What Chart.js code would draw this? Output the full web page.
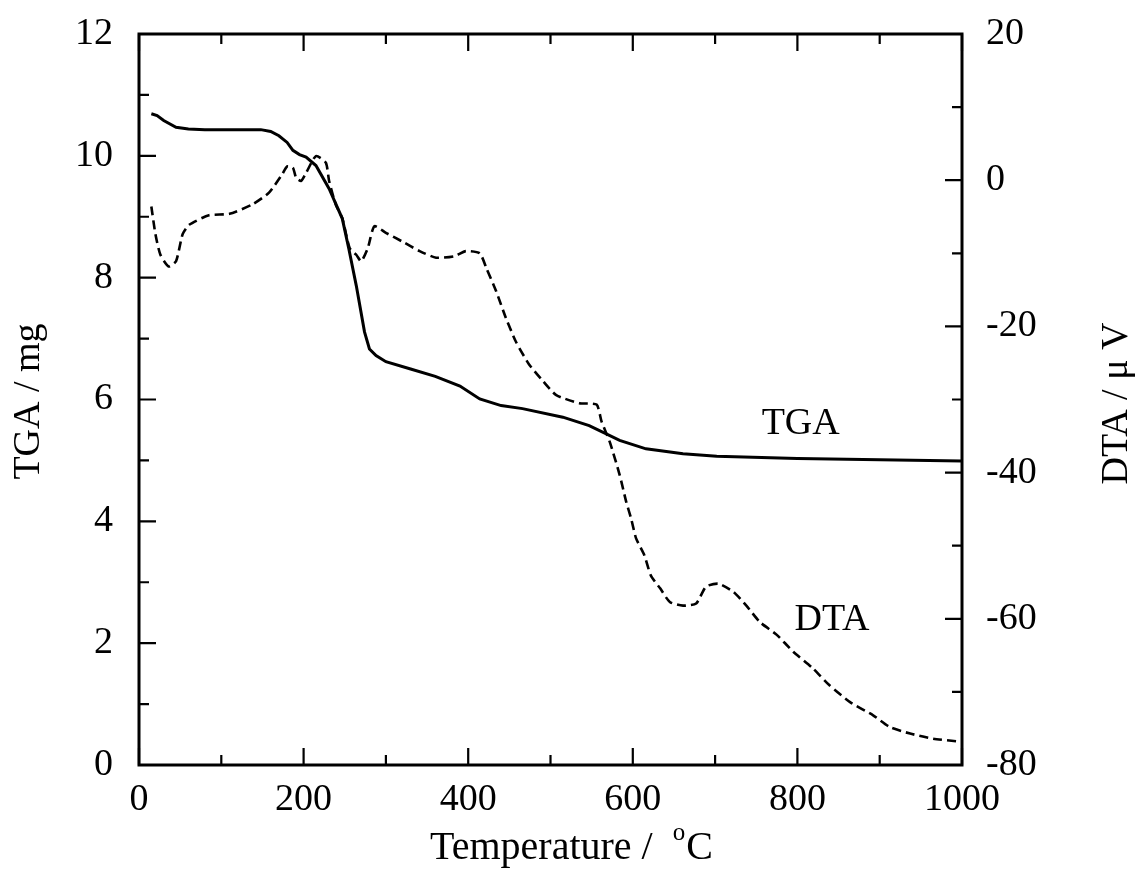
<!DOCTYPE html>
<html>
<head>
<meta charset="utf-8">
<title>TGA / DTA</title>
<script src="https://cdn.jsdelivr.net/npm/chart.js@4/dist/chart.umd.min.js"></script>
<style>
  html, body { margin: 0; padding: 0; background: #fff; }
  #wrap { width: 1135px; height: 893px; }
</style>
</head>
<body>
<div id="wrap"><canvas id="thermo" width="1135" height="893"></canvas></div>
<script>
// TGA curve: temperature (°C) vs mass (mg)
var tgaTemp = [15, 22, 30, 45, 60, 80, 110, 148, 160, 170, 180, 187, 195, 203, 215, 231, 247, 255, 264, 274,
               280, 288, 300, 330, 360, 390, 414, 440, 466, 515, 547, 564, 584, 616, 661, 702, 800, 960, 1000];
var tgaMass = [10.69, 10.66, 10.58, 10.47, 10.44, 10.43, 10.43, 10.43, 10.40, 10.33, 10.22, 10.09, 10.02, 9.98, 9.84, 9.46, 8.97, 8.47, 7.87, 7.11,
               6.83, 6.72, 6.62, 6.50, 6.38, 6.22, 6.01, 5.90, 5.85, 5.71, 5.57, 5.46, 5.33, 5.19, 5.11, 5.07, 5.03, 5.00, 4.99];

// DTA curve: temperature (°C) vs signal (µV)
var dtaTemp = [15, 20, 26, 36, 45, 53, 61, 85, 110, 138, 158, 174, 180, 187, 191, 197, 203, 215, 227, 231,
               239, 247, 256, 264, 270, 278, 286, 300, 320, 341, 361, 383, 397, 414, 422, 434, 446, 458, 474, 491,
               507, 535, 556, 562, 572, 584, 592, 598, 604, 614, 622, 633, 645, 661, 677, 689, 704, 722, 738, 754,
               775, 795, 819, 839, 864, 892, 912, 937, 965, 998];
var dtaSignal = [-3.6, -7.4, -10.2, -11.8, -11.1, -7.4, -6.1, -4.8, -4.6, -3.3, -1.7, 0.8, 1.9, 1.7, 0.3, -0.1, 1.0, 3.3, 2.4, -0.1,
                 -3.3, -5.2, -9.3, -10.2, -11.1, -9.3, -6.3, -7.2, -8.4, -9.7, -10.6, -10.4, -9.7, -10.0, -12.0, -15.2, -18.9, -22.1, -25.2, -27.5,
                 -29.4, -30.5, -30.7, -33.0, -35.8, -40.3, -44.0, -46.3, -49.0, -51.3, -54.1, -55.8, -57.7, -58.2, -57.9, -55.6, -55.2, -56.3, -58.2, -60.4,
                 -62.2, -64.5, -66.8, -69.1, -71.4, -73.2, -74.8, -75.7, -76.4, -76.8];

// curve names placed inside the plot, at data coordinates
var curveLabels = [
  { text: 'TGA', x: 804, y: 5.6, axis: 'y' },
  { text: 'DTA', x: 842, y: -60.1, axis: 'y2' }
];

var SERIF = "'Liberation Serif', 'Times New Roman', serif";
var tickFont = { family: SERIF, size: 38 };

function toPoints(xs, ys) {
  var pts = [];
  for (var i = 0; i < xs.length; i++) pts.push({ x: xs[i], y: ys[i] });
  return pts;
}

function plainNumber(v) { return String(v); }

// frame, inward ticks (major + minor), axis titles and curve names
var framePlugin = {
  id: 'frame',
  afterDraw: function(chart) {
    var ctx = chart.ctx, a = chart.chartArea;
    var sx = chart.scales.x, sy = chart.scales.y, sy2 = chart.scales.y2;
    ctx.save();
    ctx.strokeStyle = '#000';
    ctx.lineWidth = 3;
    ctx.strokeRect(a.left, a.top, a.right - a.left, a.bottom - a.top);

    ctx.lineWidth = 2.2;
    ctx.beginPath();
    var v, p, len;
    for (v = 0; v <= 1000; v += 100) {
      p = sx.getPixelForValue(v);
      len = (v % 200 === 0) ? 17 : 10;
      ctx.moveTo(p, a.bottom); ctx.lineTo(p, a.bottom - len);
      ctx.moveTo(p, a.top); ctx.lineTo(p, a.top + len);
    }
    for (v = 0; v <= 12; v += 1) {
      p = sy.getPixelForValue(v);
      len = (v % 2 === 0) ? 17 : 10;
      ctx.moveTo(a.left, p); ctx.lineTo(a.left + len, p);
    }
    for (v = -80; v <= 20; v += 10) {
      p = sy2.getPixelForValue(v);
      len = (v % 20 === 0) ? 17 : 10;
      ctx.moveTo(a.right, p); ctx.lineTo(a.right - len, p);
    }
    ctx.stroke();

    ctx.fillStyle = '#000';
    ctx.font = '38px ' + SERIF;
    ctx.textAlign = 'center';
    ctx.textBaseline = 'middle';

    // curve names
    curveLabels.forEach(function(l) {
      ctx.fillText(l.text, sx.getPixelForValue(l.x), chart.scales[l.axis].getPixelForValue(l.y));
    });

    var midY = (a.top + a.bottom) / 2;
    // left title
    ctx.save();
    ctx.translate(29, midY + 2);
    ctx.rotate(-Math.PI / 2);
    ctx.fillText('TGA / mg', 0, 0);
    ctx.restore();
    // right title
    ctx.save();
    ctx.translate(1117, midY + 4);
    ctx.rotate(-Math.PI / 2);
    ctx.fillText('DTA / \u03bc V', 0, 0);
    ctx.restore();

    // bottom title with superscript degree mark
    var main = 'Temperature /  ', sup = 'o', unit = 'C';
    ctx.font = '40px ' + SERIF;
    var w1 = ctx.measureText(main).width, w3 = ctx.measureText(unit).width;
    ctx.font = '25px ' + SERIF;
    var w2 = ctx.measureText(sup).width;
    var total = w1 + w2 + w3;
    var x0 = 571 - total / 2, ty = 846;
    ctx.textAlign = 'left';
    ctx.textBaseline = 'alphabetic';
    ctx.font = '40px ' + SERIF;
    ctx.fillText(main, x0, ty + 13);
    ctx.font = '25px ' + SERIF;
    ctx.fillText(sup, x0 + w1, ty - 6);
    ctx.font = '40px ' + SERIF;
    ctx.fillText(unit, x0 + w1 + w2 + 1, ty + 13);
    ctx.restore();
  }
};

var chart = new Chart(document.getElementById('thermo'), {
  type: 'line',
  data: {
    datasets: [
      {
        label: 'TGA',
        data: toPoints(tgaTemp, tgaMass),
        yAxisID: 'y',
        borderColor: '#000',
        borderWidth: 3,
        pointRadius: 0,
        tension: 0
      },
      {
        label: 'DTA',
        data: toPoints(dtaTemp, dtaSignal),
        yAxisID: 'y2',
        borderColor: '#000',
        borderWidth: 2.6,
        borderDash: [9, 5],
        pointRadius: 0,
        tension: 0.2
      }
    ]
  },
  options: {
    responsive: false,
    animation: false,
    layout: { padding: { top: 34, left: 0, right: 0, bottom: 0 } },
    plugins: { legend: { display: false }, tooltip: { enabled: false } },
    scales: {
      x: {
        type: 'linear', min: 0, max: 1000,
        grid: { display: false, drawTicks: false },
        border: { display: false },
        ticks: { stepSize: 200, font: tickFont, color: '#000', padding: 12, maxRotation: 0, autoSkip: false, callback: plainNumber },
        afterFit: function(s) { s.height = 128; s.paddingLeft = 0; s.paddingRight = 0; }
      },
      y: {
        position: 'left', min: 0, max: 12,
        grid: { display: false, drawTicks: false },
        border: { display: false },
        ticks: { stepSize: 2, font: tickFont, color: '#000', padding: 26, autoSkip: false, callback: plainNumber },
        afterFit: function(s) { s.width = 139; s.paddingTop = 0; s.paddingBottom = 0; }
      },
      y2: {
        position: 'right', min: -80, max: 20,
        grid: { display: false, drawTicks: false },
        border: { display: false },
        ticks: { stepSize: 20, font: tickFont, color: '#000', padding: 24, autoSkip: false, callback: plainNumber },
        afterFit: function(s) { s.width = 173; s.paddingTop = 0; s.paddingBottom = 0; }
      }
    }
  },
  plugins: [framePlugin]
});
</script>
</body>
</html>
